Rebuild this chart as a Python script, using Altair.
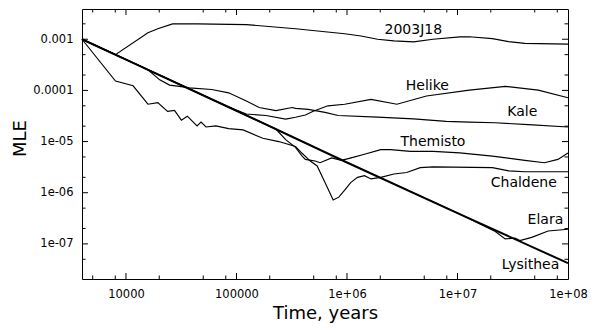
import altair as alt
import pandas as pd

# ---------------- data ----------------
j18_x = [4000, 8040, 15800, 19400, 26400, 44000, 122800, 342000, 953000, 1.34e6, 1.89e6,
         2.66e6, 4.0e6, 6.0e6, 1.05e7, 1.28e7, 2.07e7, 2.9e7, 4.07e7, 1e8]
j18_y = [1.0e-3, 5.0e-4, 1.34e-3, 1.6e-3, 2.0e-3, 2.0e-3, 1.93e-3, 1.6e-3, 1.28e-3, 1.16e-3,
         1.0e-3, 9.3e-4, 8.9e-4, 1.0e-3, 1.11e-3, 1.12e-3, 1.03e-3, 9.0e-4, 8.3e-4, 8.0e-4]

hel_x = [4000, 10000, 81500, 122800, 185000, 278600, 342000, 420000, 495000, 672000, 953000,
         1.65e6, 2.83e6, 5.24e6, 1.28e7, 2.72e7, 5.38e7, 1e8]
hel_y = [1.0e-3, 4.0e-4, 4.9e-5, 3.46e-5, 3.23e-5, 2.74e-5, 2.99e-5, 3.3e-5, 3.9e-5, 5.0e-5,
         5.37e-5, 6.68e-5, 5.37e-5, 7.76e-5, 1.01e-4, 1.2e-4, 1.01e-4, 7.2e-5]

kale_x = [4000, 10000, 15800, 20200, 24800, 30500, 37400, 59800, 84900, 122800, 160300,
          227000, 320000, 342000, 446700, 632600, 831000, 1.89e6, 4.0e6, 7.9e6, 1.28e7,
          2.2e7, 4.39e7, 1e8]
kale_y = [1.0e-3, 4.0e-4, 2.53e-4, 1.61e-4, 1.27e-4, 1.2e-4, 1.12e-4, 1.04e-4, 8.96e-5,
          6.22e-5, 4.64e-5, 4.02e-5, 4.64e-5, 4.45e-5, 4.25e-5, 3.73e-5, 3.23e-5, 3.0e-5,
          2.78e-5, 2.48e-5, 2.4e-5, 2.33e-5, 2.14e-5, 1.93e-5]

them_x = [4000, 10000, 100000, 227000, 278600, 342000, 392600, 420000, 515600, 571000,
          726000, 891000, 1.09e6, 1.44e6, 2.02e6, 2.48e6, 3.75e6, 6.04e6, 1.05e7, 2.07e7,
          4.07e7, 6.12e7, 8.11e7, 1e8]
them_y = [1.0e-3, 4.0e-4, 4.0e-5, 1.76e-5, 1.09e-5, 7.7e-6, 5.2e-6, 4.48e-6, 4.16e-6,
          3.86e-6, 4.8e-6, 4.3e-6, 4.8e-6, 5.65e-6, 6.95e-6, 6.95e-6, 6.45e-6, 6.45e-6,
          6.0e-6, 5.2e-6, 4.3e-6, 3.86e-6, 4.48e-6, 6.0e-6]

chal_x = [4000, 8040, 11600, 15800, 19400, 23800, 27500, 31700, 35900, 44000, 47800, 53000,
          65100, 84900, 114800, 173000, 241500, 342000, 392600, 465600, 537000, 632600,
          750000, 843000, 953000, 1.08e6, 1.245e6, 1.44e6, 1.65e6, 2.02e6, 2.66e6, 3.47e6,
          4.6e6, 6.04e6, 2.07e7, 2.91e7, 4.07e7, 1e8]
chal_y = [1.0e-3, 1.52e-4, 1.23e-4, 5.37e-5, 5.78e-5, 3.89e-5, 4.07e-5, 2.62e-5, 3.13e-5,
          2.02e-5, 2.4e-5, 1.93e-5, 2.02e-5, 1.79e-5, 1.69e-5, 1.16e-5, 1.0e-5, 8.0e-6,
          5.9e-6, 4.16e-6, 3.34e-6, 1.58e-6, 7.2e-7, 8.2e-7, 1.12e-6, 1.58e-6, 2.0e-6,
          2.16e-6, 1.86e-6, 2.0e-6, 2.32e-6, 2.49e-6, 3.1e-6, 3.2e-6, 3.1e-6, 2.68e-6,
          2.57e-6, 2.57e-6]

ela_x = [4000, 1e4, 1e5, 1e6, 1e7, 2.2e7, 2.7e7, 3.31e7, 3.67e7, 4.69e7, 6.61e7, 1e8]
ela_y = [1.0e-3, 4.0e-4, 4.0e-5, 3.9e-6, 4.0e-7, 1.75e-7, 1.25e-7, 1.3e-7, 1.16e-7,
         1.34e-7, 1.79e-7, 1.93e-7]

lys_x = [4000, 1e4, 1e5, 1e6, 1e7, 1e8]
lys_y = [1.0e-3, 4.0e-4, 4.0e-5, 3.9e-6, 4.0e-7, 4.2e-8]

lab_names = ["2003J18", "Helike", "Kale", "Themisto", "Chaldene", "Elara", "Lysithea"]
lab_x = [3.98e6, 5.34e6, 3.86e7, 6.0e6, 3.98e7, 6.25e7, 4.58e7]
lab_y = [1.55e-3, 1.2e-4, 3.73e-5, 9.8e-6, 1.55e-6, 2.89e-7, 3.81e-8]

x_major = [1e4, 1e5, 1e6, 1e7]
x_minor = [5000, 8000, 20000, 50000, 80000, 2e5, 5e5, 8e5, 2e6, 5e6, 8e6, 2e7, 5e7, 8e7]
y_major = [1e-3, 1e-4, 1e-5, 1e-6, 1e-7]
y_minor = [2e-3, 5e-4, 2e-4, 5e-5, 2e-5, 5e-6, 2e-6, 5e-7, 2e-7, 5e-8]
x_labels = [1e4, 1e5, 1e6, 1e7, 1e8]
y_labels = [1e-3, 1e-4, 1e-5, 1e-6, 1e-7]

# ---------------- build tables ----------------
series = {
    "2003J18": (j18_x, j18_y),
    "Helike": (hel_x, hel_y),
    "Kale": (kale_x, kale_y),
    "Themisto": (them_x, them_y),
    "Chaldene": (chal_x, chal_y),
    "Elara": (ela_x, ela_y),
    "Lysithea": (lys_x, lys_y),
}
rows = []
for name, (xs_, ys_) in series.items():
    for i, (a, b) in enumerate(zip(xs_, ys_)):
        rows.append({"series": name, "t": a, "mle": b, "order": i})
df = pd.DataFrame(rows)
labels_df = pd.DataFrame({"name": lab_names, "t": lab_x, "mle": lab_y})

W, H = 486, 270
FONT = "DejaVu Sans"
xsc = alt.Scale(type="log", domain=[4000, 1e8], nice=False)
ysc = alt.Scale(type="log", domain=[2.06e-8, 3.9e-3], nice=False)

x_axis = alt.Axis(
    values=x_labels,
    labelExpr="datum.value >= 1e6 ? '1e+0' + format(log(datum.value)/LN10, '.0f') : format(datum.value, 'd')",
    ticks=False, domain=False, grid=False, labelFlush=False, labelOverlap=False,
    labelPadding=9, labelFont=FONT, labelFontSize=11.5, labelColor="black",
    title="Time, years", titleFont=FONT, titleFontSize=18, titleFontWeight="normal",
    titleColor="black", titleBaseline="alphabetic", titleY=39,
)
y_axis = alt.Axis(
    values=y_labels,
    labelExpr="datum.value >= 0.00009 ? format(datum.value, '~f') : '1e-0' + format(-log(datum.value)/LN10, '.0f')",
    ticks=False, domain=False, grid=False, labelFlush=False, labelOverlap=False,
    labelPadding=9, labelFont=FONT, labelFontSize=11.5, labelColor="black",
    title="MLE", titleFont=FONT, titleFontSize=18, titleFontWeight="normal",
    titleColor="black", titleBaseline="alphabetic", titleAngle=270, titleX=-57, titleY=129,
)


def X(field):
    return alt.X(field, type="quantitative", scale=xsc, axis=x_axis)


def Y(field):
    return alt.Y(field, type="quantitative", scale=ysc, axis=y_axis)


others = alt.Chart(df[df.series != "Lysithea"]).mark_line(
    color="black", strokeWidth=1.15
).encode(x=X("t"), y=Y("mle"), detail="series:N", order="order:Q")

lys = alt.Chart(df[df.series == "Lysithea"]).mark_line(
    color="black", strokeWidth=2
).encode(x=X("t"), y=Y("mle"), order="order:Q")

texts = alt.Chart(labels_df).mark_text(
    font=FONT, fontSize=14, color="black", align="center", baseline="middle"
).encode(x=X("t"), y=Y("mle"), text="name:N")


def xticks(vals, length, top):
    d = pd.DataFrame({"t": vals})
    if top:
        yy, yy2 = alt.value(0), alt.value(length)
    else:
        yy, yy2 = alt.value(H), alt.value(H - length)
    return alt.Chart(d).mark_rule(color="black", strokeWidth=1).encode(
        x=X("t"), y=yy, y2=yy2
    )


def yticks(vals, length, right):
    d = pd.DataFrame({"mle": vals})
    if right:
        xx, xx2 = alt.value(W), alt.value(W - length)
    else:
        xx, xx2 = alt.value(0), alt.value(length)
    return alt.Chart(d).mark_rule(color="black", strokeWidth=1).encode(
        y=Y("mle"), x=xx, x2=xx2
    )


MAJ, MIN = 6, 3.5
tick_layers = [
    xticks(x_major, MAJ, False), xticks(x_minor, MIN, False),
    xticks(x_major, MAJ, True), xticks(x_minor, MIN, True),
    yticks(y_major, MAJ, False), yticks(y_minor, MIN, False),
    yticks(y_major, MAJ, True), yticks(y_minor, MIN, True),
]

chart = alt.layer(others, lys, texts, *tick_layers).properties(
    width=W, height=H,
    padding={"left": 74, "top": 1, "right": 22, "bottom": 44},
    autosize=alt.AutoSizeParams(type="none"),
    background="white",
).configure_view(stroke="black", strokeWidth=1)

chart.save("out.html", embed_options={"renderer": "svg", "actions": False})
